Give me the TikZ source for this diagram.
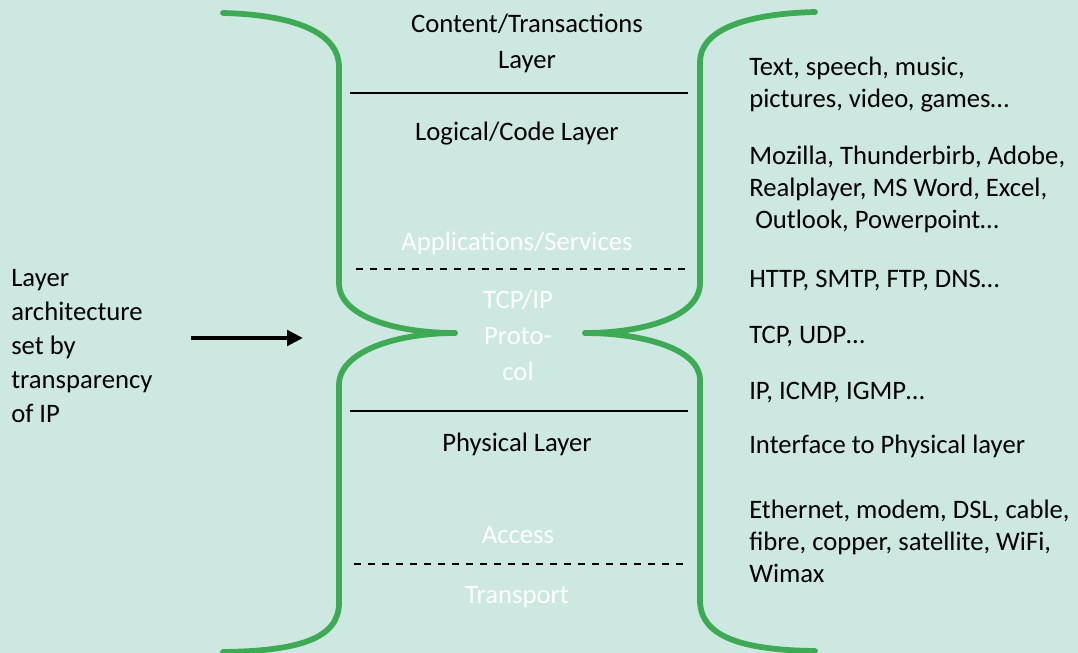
\documentclass[tikz,border=0pt]{standalone}
\usepackage{fontspec}
\setmainfont{Carlito}
\usetikzlibrary{arrows.meta,positioning}
\definecolor{bgmint}{HTML}{CDE8E0}
\definecolor{bracegreen}{HTML}{3FAA55}

\begin{document}
\begin{tikzpicture}[
  x=0.75pt, y=-0.75pt,
  lbl/.style={font=\fontsize{20}{27}\selectfont, align=center, inner sep=0pt},
  ghost/.style={lbl, text=white},
  side/.style={font=\fontsize{20}{24}\selectfont, align=left, anchor=west, inner sep=0pt},
  brace/.style={bracegreen, line width=4.3pt, line cap=round, line join=round},
  sep/.style={black, line width=1.5pt},
  dsep/.style={black, line width=1.4pt, dash pattern=on 5.3pt off 5.2pt},
  arr/.style={-{Triangle[length=12pt,width=11.5pt]}, line width=3.2pt}
]
  \fill[bgmint] (0,0) rectangle (1078,653);
  \useasboundingbox (0,0) rectangle (1078,653);

  % braces
  \draw[brace] (223,13) .. controls (300,15) and (339,35) .. (339,67) -- (339,283)
    .. controls (339,318) and (400,333) .. (455,333);
  \draw[brace] (455,333) .. controls (400,333) and (339,350) .. (339,385) -- (339,603)
    .. controls (339,638) and (300,651) .. (223,652);
  \draw[brace] (815,12) .. controls (740,14) and (700,32) .. (700,62) -- (700,283)
    .. controls (700,318) and (640,333) .. (585,333);
  \draw[brace] (585,333) .. controls (640,333) and (700,348) .. (700,380) -- (700,600)
    .. controls (700,636) and (740,650) .. (815,651);

  % layer separators
  \coordinate (s1a) at (350,93);  \coordinate (s1b) at (688,93);
  \coordinate (s2a) at (356,269); \coordinate (s2b) at (688,269);
  \coordinate (s3a) at (350,411); \coordinate (s3b) at (688,411);
  \coordinate (s4a) at (354,564); \coordinate (s4b) at (688,564);
  \draw[sep] (s1a) -- (s1b);
  \draw[dsep] (s2a) -- (s2b);
  \draw[sep] (s3a) -- (s3b);
  \draw[dsep] (s4a) -- (s4b);

  % middle column
  \node[lbl] (content) at (527,43) {Content/Transactions\\Layer};
  \node[lbl] (logical) at (517,134) {Logical/Code Layer};
  \node[ghost] (apps) at (517,243) {Applications/Services};
  \node[ghost] (tcpip) at (518,335) {TCP/IP\\Proto-\\col};
  \node[lbl] (phys) at (517,444) {Physical Layer};
  \node[ghost] (access) at (518,535) {Access};
  \node[ghost] (transport) at (517,597) {Transport};

  % right column
  \node[side] (media) at (749,85) {Text, speech, music,\\pictures, video, games\ldots};
  \node[side] (progs) at (749,189) {Mozilla, Thunderbirb, Adobe,\\Realplayer, MS Word, Excel,\\\ Outlook, Powerpoint\ldots};
  \node[side] (http) at (749,281) {HTTP, SMTP, FTP, DNS\ldots};
  \node[side] (tcp) at (749,337) {TCP, UDP\ldots};
  \node[side] (ip) at (749,393) {IP, ICMP, IGMP\ldots};
  \node[side] (iface) at (749,446) {Interface to Physical layer};
  \node[side] (media2) at (749,541) {Ethernet, modem, DSL, cable,\\fibre, copper, satellite, WiFi,\\Wimax};

  % left note
  \node[font=\fontsize{20}{25.5}\selectfont, align=left, anchor=west, inner sep=0pt]
    (arch) at (11,346) {Layer\\architecture\\set by\\transparency\\of IP};
  \coordinate (arrstart) at (191,338);
  \coordinate (arrend) at (303,338);
  \draw[arr] (arrstart) -- (arrend);
\end{tikzpicture}
\end{document}
